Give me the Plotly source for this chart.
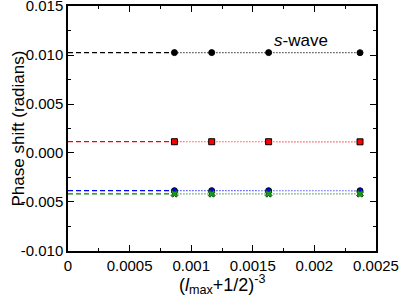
import plotly.graph_objects as go

# data
lmax = [10, 9, 8, 7]
x_vals = [(l + 0.5) ** -3 for l in lmax]
black_vals = [0.01025, 0.01025, 0.01025, 0.01024]
red_vals = [0.00115, 0.00115, 0.00115, 0.00114]
blue_vals = [-0.00385, -0.00385, -0.00385, -0.00386]
green_vals = [-0.00417, -0.00417, -0.00417, -0.00417]
x_ticks = [0, 0.0005, 0.001, 0.0015, 0.002, 0.0025]
x_tick_text = ["0", "0.0005", "0.001", "0.0015", "0.002", "0.0025"]
y_ticks = [-0.010, -0.005, 0.000, 0.005, 0.010, 0.015]
y_tick_text = ["-0.010", "-0.005", "0.000", "0.005", "0.010", "0.015"]

FONT = "Liberation Sans, Arial, Helvetica"

series = [
    (black_vals, "black", "circle", "black"),
    (red_vals, "red", "square", "red"),
    (blue_vals, "blue", "circle", "blue"),
    (green_vals, "green", "x", "#1a9e1a"),
]

fig = go.Figure()
for vals, col, sym, mcol in series:
    # extrapolation to x=0 (dashed)
    fig.add_trace(go.Scatter(x=[0, x_vals[0]], y=[vals[0], vals[0]], mode="lines",
                             line=dict(color=col, width=1.2, dash="5px,3px"),
                             showlegend=False, hoverinfo="skip"))
    # dotted connecting line
    fig.add_trace(go.Scatter(x=x_vals, y=vals, mode="lines",
                             line=dict(color=col, width=1.2, dash="1px,2px"),
                             showlegend=False))
    fig.add_trace(go.Scatter(x=x_vals, y=vals, mode="markers",
                             marker=dict(symbol=sym, size=6,
                                         color=mcol,
                                         line=dict(color="black" if sym != "x" else "#0b4d0b", width=1)),
                             showlegend=False))

fig.add_annotation(x=0.00189, y=0.0115, text="<i>s</i>-wave", showarrow=False,
                   font=dict(size=17, color="black", family=FONT))

# axis titles as annotations for exact placement
fig.add_annotation(xref="paper", yref="paper", x=0, y=0.5, xanchor="center", yanchor="middle",
                   xshift=-50, text="Phase shift (radians)", textangle=-90, showarrow=False,
                   font=dict(size=17, color="black", family=FONT))
fig.add_annotation(xref="paper", yref="paper", x=0.5, y=0, xanchor="center", yanchor="top",
                   yshift=-19, text="(<i>l</i><sub>max</sub>+1/2)<sup>-3</sup>", showarrow=False,
                   font=dict(size=18, color="black", family=FONT))

axis_common = dict(showline=True, linecolor="black", linewidth=1.5, mirror="ticks",
                   ticks="inside", ticklen=6, tickwidth=1.2, tickcolor="black",
                   showgrid=False, zeroline=False, ticklabeloverflow="allow",
                   automargin=False,
                   tickfont=dict(size=15, color="black", family=FONT))

fig.update_xaxes(range=[-0.0000001, 0.0025001], tickvals=x_ticks, ticktext=x_tick_text,
                 minor=dict(ticks="inside", ticklen=3, tickwidth=1, tickcolor="black", dtick=0.00025),
                 **axis_common)
fig.update_yaxes(range=[-0.01001, 0.01501], tickvals=y_ticks, ticktext=y_tick_text,
                 minor=dict(ticks="inside", ticklen=3, tickwidth=1, tickcolor="black", dtick=0.0025),
                 **axis_common)

fig.update_layout(width=399, height=302, margin=dict(l=68, r=23, t=6, b=51, autoexpand=False),
                  plot_bgcolor="white", paper_bgcolor="white")

fig.write_html("out.html", config={"displayModeBar": False},
               post_script="document.body.style.margin='0';")
